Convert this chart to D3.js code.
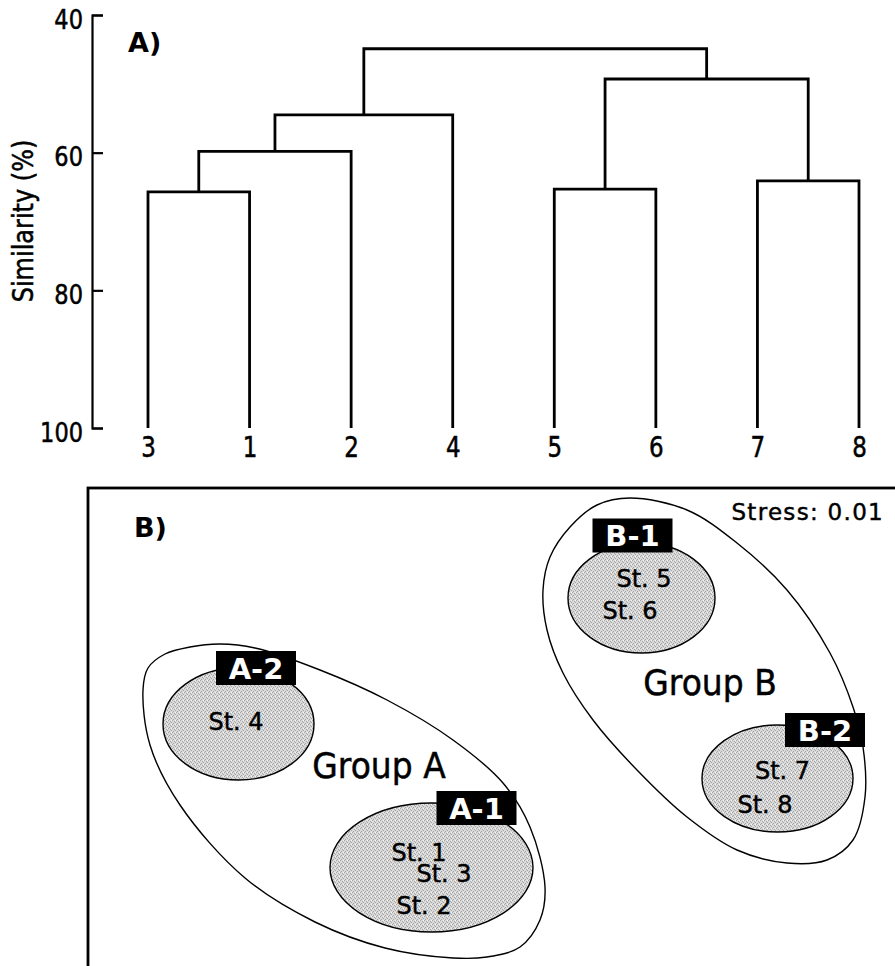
<!DOCTYPE html>
<html>
<head>
<meta charset="utf-8">
<script src="https://cdn.jsdelivr.net/npm/d3@7"></script>
<style>
  html, body { margin: 0; padding: 0; background: #fff; }
  svg { display: block; }
  text { font-family: "DejaVu Sans", Verdana, sans-serif; fill: #000; }
  .ink { stroke: #000; stroke-width: 0.45px; }
</style>
</head>
<body>
<svg id="chart"></svg>
<script>
// ---- data: panel A (cluster dendrogram) ----
const leaves = ['3', '1', '2', '4', '5', '6', '7', '8'];
const clusterIds = ['c1', 'c2', 'c3', 'c4', 'c5', 'c6', 'c7'];
const clusterLeft = ['3', 'c1', 'c2', '5', '7', 'c4', 'c3'];
const clusterRight = ['1', '2', '4', '6', '8', 'c5', 'c6'];
const clusterSimilarity = [65.7, 59.8, 54.5, 65.3, 64.1, 49.3, 44.9];
const similarityTicks = [40, 60, 80, 100];

// ---- data: panel B (NMDS ordination, axis units) ----
const groupNames = ['Group A', 'Group B'];
const groupAHullX = [-3.485, -3.435, -3.265, -3.015, -2.715, -2.365, -1.715, -1.045, -0.385, 0.115, 0.385,
                     0.535, 0.485, 0.285, -0.045, -0.385, -1.065, -1.765, -2.465, -3.115, -3.415];
const groupAHullY = [0.37, 0.59, 0.73, 0.80, 0.83, 0.79, 0.57, 0.27, -0.13, -0.56, -1.00,
                     -1.60, -1.93, -2.20, -2.30, -2.31, -2.21, -1.95, -1.51, -0.78, -0.18];
const groupBHullX = [1.385, 1.055, 0.785, 0.585, 0.515, 0.555, 0.715, 1.015, 1.455, 1.955, 2.455,
                     2.955, 3.355, 3.615, 3.735, 3.715, 3.615, 3.385, 2.955, 2.455, 1.955];
const groupBHullY = [2.29, 2.22, 2.00, 1.70, 1.37, 0.97, 0.54, 0.07, -0.43, -0.90, -1.23,
                     -1.36, -1.33, -1.13, -0.70, -0.20, 0.20, 0.74, 1.37, 1.84, 2.17];
const groupLabelX = [-1.125, 2.185];
const groupLabelY = [-0.375, 0.455];

const subNames = ['A-2', 'A-1', 'B-1', 'B-2'];
const subX = [-2.53, -0.60, 1.50, 2.86];
const subY = [0.03, -1.405, 1.29, -0.515];
const subRadiusX = [0.755, 1.015, 0.735, 0.755];
const subRadiusY = [0.56, 0.645, 0.55, 0.535];
const subTagX = [-2.355, -0.15, 1.41, 3.335];
const subTagY = [0.59, -0.81, 1.915, -0.03];

const stations = ['St. 4', 'St. 1', 'St. 3', 'St. 2', 'St. 5', 'St. 6', 'St. 7', 'St. 8'];
const stationX = [-2.555, -0.725, -0.475, -0.675, 1.525, 1.385, 2.91, 2.735];
const stationY = [0.055, -1.255, -1.465, -1.78, 1.485, 1.17, -0.435, -0.775];
const stressValue = 0.01;

// ---- layout ----
const width = 895, height = 966;
const svg = d3.select('#chart').attr('width', width).attr('height', height);

// dithered grey like the printed screen tone
const defs = svg.append('defs');
const tone = defs.append('pattern')
    .attr('id', 'tone')
    .attr('patternUnits', 'userSpaceOnUse')
    .attr('width', 4).attr('height', 4);
tone.append('rect').attr('width', 4).attr('height', 4).attr('fill', '#dadada');
[[0, 0], [2, 1], [1, 3], [3, 2]].forEach(p => {
    tone.append('rect').attr('x', p[0]).attr('y', p[1]).attr('width', 1).attr('height', 1).attr('fill', '#a4a4a4');
});
tone.append('rect').attr('x', 3).attr('y', 0).attr('width', 1).attr('height', 1).attr('fill', '#f4f4f4');

// Panel A
const axisX = 92;
const xScale = d3.scalePoint().domain(leaves).range([148, 859]);
const yScale = d3.scaleLinear().domain([40, 100]).range([15, 428]);

const panelA = svg.append('g');

const yAxis = d3.axisLeft(yScale)
    .tickValues(similarityTicks)
    .tickSizeInner(-11)
    .tickSizeOuter(-11)
    .tickPadding(9);

const yAxisG = panelA.append('g')
    .attr('transform', `translate(${axisX},0)`)
    .call(yAxis);
yAxisG.attr('font-family', null).attr('font-size', null);
yAxisG.select('.domain').attr('stroke-width', 2.2);
yAxisG.selectAll('.tick line').attr('stroke-width', 2.2);
yAxisG.selectAll('.tick text')
    .attr('class', 'ink')
    .attr('font-size', 22.5)
    .attr('dy', '0.49em')
    .attr('transform', 'scale(1,1.2)');

panelA.append('text')
    .attr('class', 'ink')
    .attr('transform', `translate(33,221) rotate(-90) scale(1,1.15)`)
    .attr('text-anchor', 'middle')
    .attr('font-size', 24)
    .text('Similarity (%)');

panelA.append('text')
    .attr('x', 128).attr('y', 52)
    .attr('font-size', 27)
    .attr('font-weight', 'bold')
    .text('A)');

// positions and heights of every node
const nodeX = {}, nodeSim = {};
leaves.forEach(d => { nodeX[d] = xScale(d); nodeSim[d] = 100; });
clusterIds.forEach((id, i) => {
    const l = clusterLeft[i], r = clusterRight[i];
    nodeX[id] = (nodeX[l] + nodeX[r]) / 2;
    nodeSim[id] = clusterSimilarity[i];
});

panelA.selectAll('.link')
    .data(clusterIds)
    .join('path')
    .attr('class', 'link')
    .attr('fill', 'none')
    .attr('stroke', '#000')
    .attr('stroke-width', 2.8)
    .attr('d', (id, i) => {
        const l = clusterLeft[i], r = clusterRight[i];
        return `M${nodeX[l]},${yScale(nodeSim[l])}V${yScale(nodeSim[id])}` +
               `H${nodeX[r]}V${yScale(nodeSim[r])}`;
    });

const leafAxis = d3.axisBottom(xScale).tickSize(0).tickPadding(0);
const leafAxisG = panelA.append('g')
    .attr('transform', `translate(0,${yScale(100)})`)
    .call(leafAxis);
leafAxisG.attr('font-family', null).attr('font-size', null);
leafAxisG.select('.domain').remove();
leafAxisG.selectAll('.tick text')
    .attr('class', 'ink')
    .attr('font-size', 23)
    .attr('y', 24)
    .attr('dy', 0)
    .attr('transform', 'scale(1,1.2)');

// Panel B
const box = {x: 88, y: 488};
const xB = d3.scaleLinear().domain([-4.035, 4.035]).range([box.x, width]);
const yB = d3.scaleLinear().domain([2.39, -2.39]).range([box.y, height]);
const rB = d => xB(d) - xB(0);

const panelB = svg.append('g');

panelB.append('rect')
    .attr('x', box.x).attr('y', box.y)
    .attr('width', 1000).attr('height', 1000)
    .attr('fill', 'none')
    .attr('stroke', '#000')
    .attr('stroke-width', 2.8);

panelB.append('text')
    .attr('x', 134).attr('y', 537)
    .attr('font-size', 27)
    .attr('font-weight', 'bold')
    .text('B)');

panelB.append('text')
    .attr('class', 'ink')
    .attr('x', 884).attr('y', 520)
    .attr('text-anchor', 'end')
    .attr('font-size', 23)
    .attr('letter-spacing', 1.3)
    .text(`Stress: ${stressValue.toFixed(2)}`);

const hull = d3.line()
    .x(d => xB(d[0]))
    .y(d => yB(d[1]))
    .curve(d3.curveCatmullRomClosed);
const hulls = [d3.zip(groupAHullX, groupAHullY), d3.zip(groupBHullX, groupBHullY)];

panelB.selectAll('.group')
    .data(hulls)
    .join('path')
    .attr('class', 'group')
    .attr('d', hull)
    .attr('fill', '#fff')
    .attr('stroke', '#000')
    .attr('stroke-width', 1.4);

panelB.selectAll('.sub')
    .data(subNames)
    .join('ellipse')
    .attr('class', 'sub')
    .attr('cx', (d, i) => xB(subX[i]))
    .attr('cy', (d, i) => yB(subY[i]))
    .attr('rx', (d, i) => rB(subRadiusX[i]))
    .attr('ry', (d, i) => rB(subRadiusY[i]))
    .attr('fill', 'url(#tone)')
    .attr('stroke', '#000')
    .attr('stroke-width', 1.4);

const tagW = 80, tagH = 34;
const tags = panelB.selectAll('.tag')
    .data(subNames)
    .join('g')
    .attr('class', 'tag')
    .attr('transform', (d, i) => `translate(${xB(subTagX[i])},${yB(subTagY[i])})`);
tags.append('rect')
    .attr('x', -tagW / 2).attr('y', -tagH / 2)
    .attr('width', tagW).attr('height', tagH)
    .attr('fill', '#000');
tags.append('text')
    .attr('text-anchor', 'middle')
    .attr('dy', '0.365em')
    .attr('font-size', 29)
    .attr('font-weight', 'bold')
    .style('fill', '#fff')
    .text(d => d);

panelB.selectAll('.station')
    .data(stations)
    .join('text')
    .attr('class', 'station ink')
    .attr('x', (d, i) => xB(stationX[i]))
    .attr('y', (d, i) => yB(stationY[i]))
    .attr('dy', '0.36em')
    .attr('text-anchor', 'middle')
    .attr('font-size', 24)
    .text(d => d);

panelB.selectAll('.group-label')
    .data(groupNames)
    .join('text')
    .attr('class', 'group-label ink')
    .attr('transform', (d, i) => `translate(${xB(groupLabelX[i])},${yB(groupLabelY[i])}) scale(1,1.1)`)
    .attr('dy', '0.365em')
    .attr('text-anchor', 'middle')
    .attr('font-size', 33)
    .text(d => d);
</script>
</body>
</html>
